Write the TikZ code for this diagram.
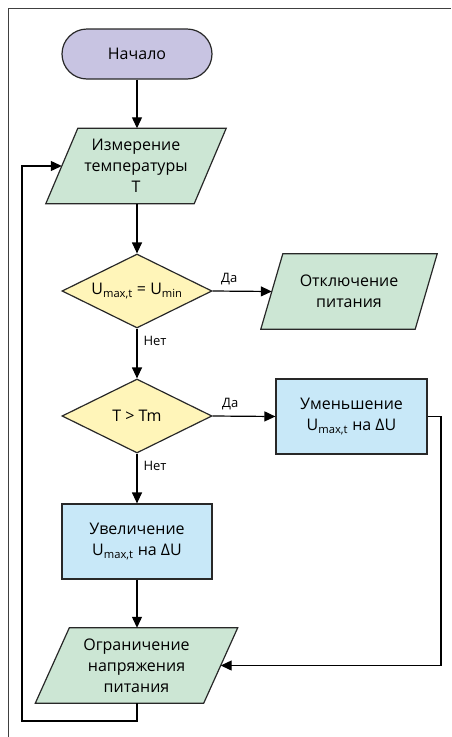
\documentclass[tikz,border=0pt]{standalone}
\usepackage{fontspec}
\setmainfont{Open Sans}
\usetikzlibrary{shapes.geometric,arrows.meta,backgrounds}
\definecolor{cstart}{RGB}{200,196,226}
\definecolor{cio}{RGB}{204,230,212}
\definecolor{cdec}{RGB}{255,245,185}
\definecolor{cproc}{RGB}{200,232,248}
\definecolor{cline}{RGB}{40,40,40}
\tikzset{
  base/.style={font=\fontsize{16}{21}\selectfont, align=center, inner sep=0pt},
  startbox/.style={base, draw=cline, line width=1.2pt, fill=cstart, rounded corners=25pt, minimum width=150pt, minimum height=50pt},
  iobox/.style={base, minimum height=75pt},
  decbox/.style={base, diamond, aspect=2, draw=cline, line width=1.2pt, fill=cdec, minimum width=150pt, minimum height=74pt},
  procbox/.style={base, rectangle, draw=cline, line width=1.2pt, fill=cproc, minimum width=151pt, minimum height=75pt},
  iofill/.style={draw=cline, line width=1.2pt, fill=cio},
  conn/.style={line width=1.2pt, draw=black, -{Triangle[length=11pt,width=10pt]}},
  lbl/.style={font=\fontsize{13}{15}\selectfont, inner sep=0pt},
}
\begin{document}
\begin{tikzpicture}[x=1pt,y=-1pt]
\useasboundingbox (0,0) rectangle (451,737);
\draw[line width=1.5pt, draw=black!75] (8.5,737) -- (8.5,8.5) -- (451,8.5);

\node[startbox] (start) at (137,54) {Начало};
\node[iobox, minimum width=148pt] (meas) at (136,166) {Измерение\\температуры\\Т};
\node[decbox] (d1) at (137,291) {U\textsubscript{max,t} = U\textsubscript{min}};
\node[iobox, minimum width=154pt] (off) at (349,291.5) {Отключение\\питания};
\node[decbox] (d2) at (137,416) {T > Tm};
\node[procbox] (dec) at (351.5,416.5) {Уменьшение\\U\textsubscript{max,t} на ΔU};
\node[procbox, minimum width=150pt] (inc) at (137,541.5) {Увеличение\\U\textsubscript{max,t} на ΔU};
\node[iobox, minimum width=168pt] (lim) at (136.5,665.5) {Ограничение\\напряжения\\питания};

\begin{scope}[on background layer]
\draw[iofill] ([xshift=16pt]meas.north west) -- ([xshift=16pt]meas.north east) -- ([xshift=-16pt]meas.south east) -- ([xshift=-16pt]meas.south west) -- cycle;
\draw[iofill] ([xshift=11pt]off.north west) -- ([xshift=11pt]off.north east) -- ([xshift=-11pt]off.south east) -- ([xshift=-11pt]off.south west) -- cycle;
\draw[iofill] ([xshift=17pt]lim.north west) -- ([xshift=17pt]lim.north east) -- ([xshift=-17pt]lim.south east) -- ([xshift=-17pt]lim.south west) -- cycle;
\end{scope}

\coordinate (rr) at (441,416.5);
\coordinate (ll) at (22,721);

\draw[conn] (start.south) -- (meas.north -| start.south);
\draw[conn] (meas.south -| start.south) -- (d1.north);
\draw[conn] (d1.east) -- (off.west) node[lbl, pos=0.28, above=6pt] {Да};
\draw[conn] (d1.south) -- (d2.north) node[lbl, pos=0.25, right=6pt] {Нет};
\draw[conn] (d2.east) -- (dec.west) node[lbl, pos=0.28, above=6pt] {Да};
\draw[conn] (d2.south) -- (inc.north) node[lbl, pos=0.25, right=6pt] {Нет};
\draw[conn] (inc.south) -- (inc.south |- lim.north);
\draw[conn] (dec.east) -- (rr) -- (rr |- lim.east) -- (lim.east);
\draw[conn] (inc.south |- lim.south) -- (inc.south |- ll) -- (ll) -- (ll |- meas.west) -- (meas.west);
\end{tikzpicture}
\end{document}
